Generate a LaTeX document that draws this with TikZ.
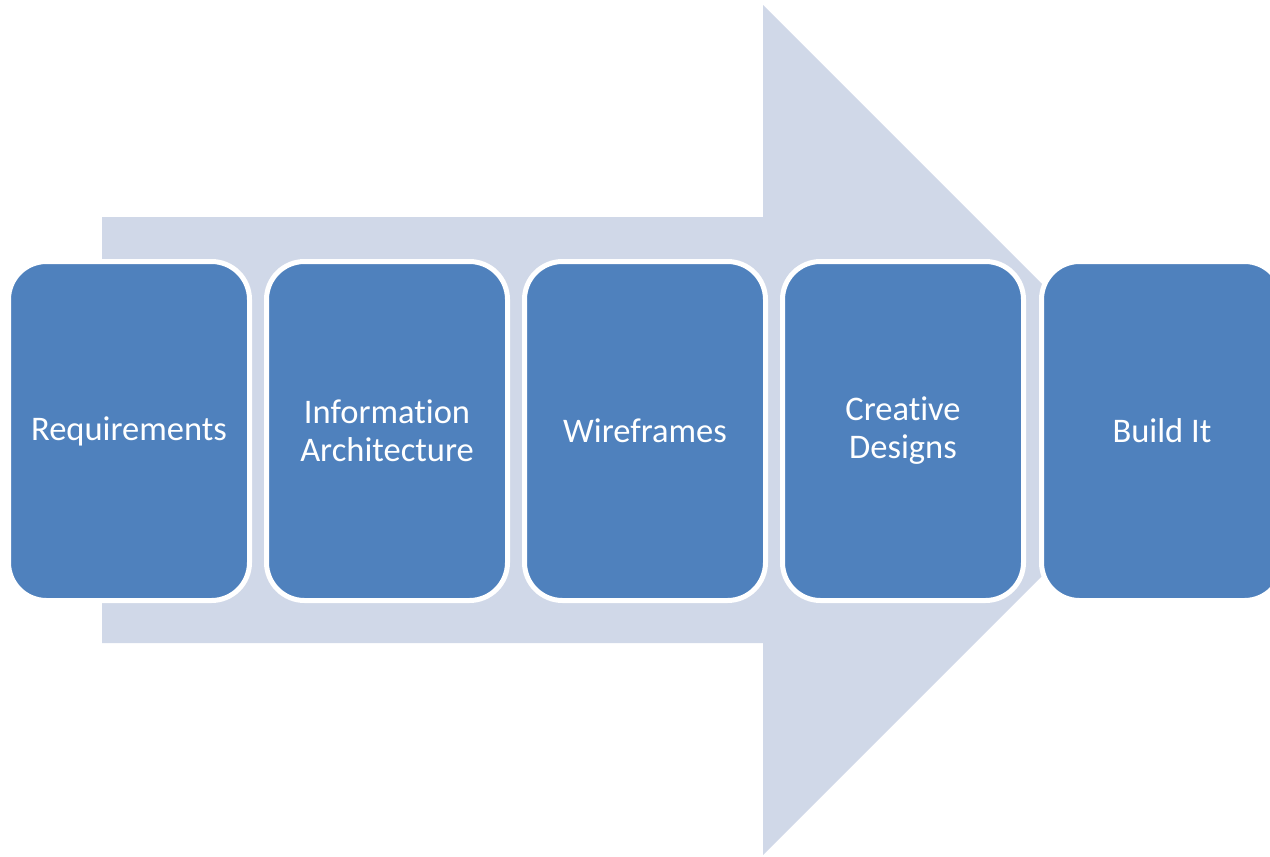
\documentclass[tikz,border=0pt]{standalone}
\usepackage{fontspec}
\setmainfont{Carlito}[Ligatures=NoCommon]
\definecolor{arrowfill}{HTML}{D0D8E8}
\definecolor{boxfill}{HTML}{4F81BD}
\begin{document}
\begin{tikzpicture}[x=1pt,y=-1pt,
  stagebox/.style={draw=white,line width=5pt,fill=boxfill,rounded corners=38pt,
    minimum width=241pt,minimum height=339pt,inner sep=0pt,anchor=center,
    text=white,align=center,font=\fontsize{34.5}{38}\selectfont}]
\useasboundingbox (0,0) rectangle (1270,857);
\begin{scope}
\clip (0,0) rectangle (1270,857);
\fill[arrowfill] (102,217) -- (763,217) -- (763,5) -- (1188,430) -- (763,855) -- (763,643) -- (102,643) -- cycle;
\node[stagebox] (s1) at (129,431) {Requirements};
\node[stagebox] (s2) at (387,431) {Information\\Architecture};
\node[stagebox] (s3) at (645,431) {Wireframes};
\node[stagebox] (s4) at (903,431) {Creative\\Designs};
\node[stagebox] (s5) at (1162,431) {Build It};
\end{scope}
\end{tikzpicture}
\end{document}
